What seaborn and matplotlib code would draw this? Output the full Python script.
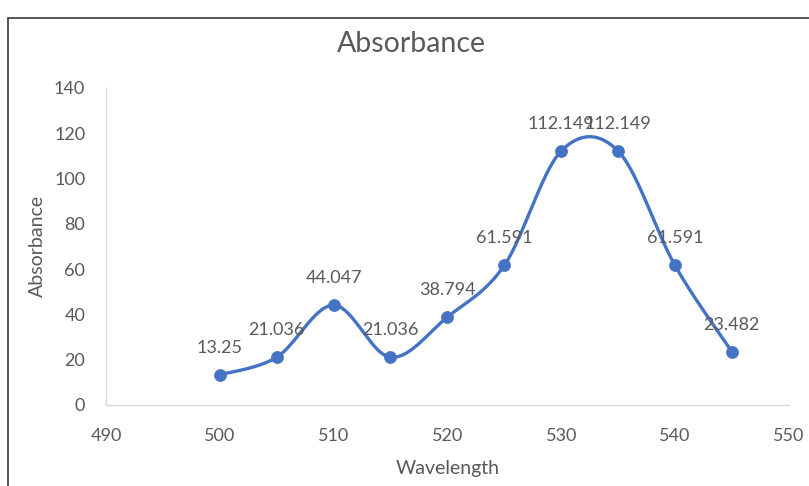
import numpy as np
import pandas as pd
import matplotlib
matplotlib.use("Agg")
import matplotlib.pyplot as plt
from matplotlib.patches import Rectangle
import seaborn as sns

# Measured spectrum
wavelength = [500, 505, 510, 515, 520, 525, 530, 535, 540, 545]
absorbance = [13.25, 21.036, 44.047, 21.036, 38.794, 61.591, 112.149, 112.149, 61.591, 23.482]
x_ticks = [490, 500, 510, 520, 530, 540, 550]
y_ticks = [0, 20, 40, 60, 80, 100, 120, 140]

LINE = "#4472C4"
TEXT = "#595959"
AXIS = "#D9D9D9"


def smooth_curve(xs, ys, steps=40):
    """Bezier smoothing (Catmull-Rom style) through every data point."""
    p = np.column_stack([xs, ys]).astype(float)
    n = len(p)
    out = []
    for i in range(n - 1):
        p0 = p[i - 1] if i > 0 else p[i]
        p1 = p[i]
        p2 = p[i + 1]
        p3 = p[i + 2] if i + 2 < n else p[i + 1]
        c1 = p1 + (p2 - p0) / 6.0
        c2 = p2 - (p3 - p1) / 6.0
        t = np.linspace(0, 1, steps, endpoint=(i == n - 2))[:, None]
        seg = ((1 - t) ** 3) * p1 + 3 * ((1 - t) ** 2) * t * c1 + 3 * (1 - t) * t ** 2 * c2 + t ** 3 * p2
        out.append(seg)
    return np.vstack(out)


sns.set_style("white")
plt.rcParams["font.family"] = ["Lato", "DejaVu Sans"]

fig = plt.figure(figsize=(8.09, 4.86), dpi=100)
ax = fig.add_axes([0.131, 0.167, 0.844, 0.652])

curve = smooth_curve(wavelength, absorbance)
curve_df = pd.DataFrame({"Wavelength": curve[:, 0], "Absorbance": curve[:, 1]})
points_df = pd.DataFrame({"Wavelength": wavelength, "Absorbance": absorbance})

sns.lineplot(data=curve_df, x="Wavelength", y="Absorbance", ax=ax,
             color=LINE, linewidth=2.4, sort=False, estimator=None)
sns.scatterplot(data=points_df, x="Wavelength", y="Absorbance", ax=ax,
                color=LINE, s=75, edgecolor=LINE, linewidth=0.5, zorder=3)

for xv, yv in zip(wavelength, absorbance):
    ax.annotate(f"{yv:g}", (xv, yv), xytext=(0, 19.5), textcoords="offset points",
                ha="center", va="center", fontsize=13, color=TEXT)

ax.set_xlim(490, 550)
ax.set_ylim(0, 140)
ax.set_xticks(x_ticks)
ax.set_yticks(y_ticks)
ax.tick_params(axis="both", length=0, labelsize=13, labelcolor=TEXT)
ax.tick_params(axis="y", pad=15)
ax.tick_params(axis="x", pad=17)

sns.despine(ax=ax)
for side in ("left", "bottom"):
    ax.spines[side].set_color(AXIS)
    ax.spines[side].set_linewidth(1.0)

ax.set_xlabel("Wavelength", fontsize=14, color=TEXT, labelpad=11)
ax.set_ylabel("Absorbance", fontsize=14, color=TEXT, labelpad=6)
fig.suptitle("Absorbance", x=0.508, y=0.937, fontsize=20.5, color=TEXT)

# Chart frame
fig.patches.append(Rectangle((0.0099, -0.1), 1.2, 1.063, transform=fig.transFigure,
                             fill=False, edgecolor="#3a3a3a", linewidth=1.2))

fig.savefig("out.png", dpi=100)
